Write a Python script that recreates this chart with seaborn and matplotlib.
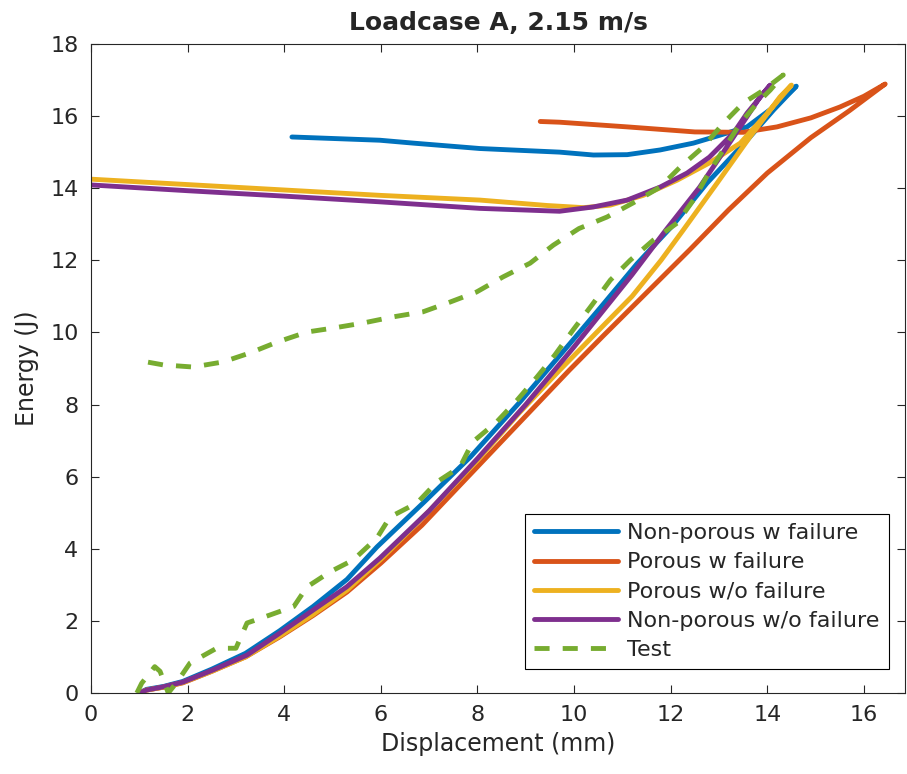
import numpy as np
import pandas as pd
import matplotlib
matplotlib.use("Agg")
import matplotlib.pyplot as plt
import seaborn as sns

# ---- data (displacement mm, energy J) ----
# each series: loading branch, then unloading branch (one continuous path)
blue_x_load = [1.0, 1.15, 1.5, 1.9, 2.5, 3.2, 3.9, 4.6, 5.3, 5.92, 6.9, 7.85, 8.9, 9.92,
               10.54, 11.3, 12.05, 12.75, 13.58, 14.13, 14.6]
blue_y_load = [0, 0.1, 0.18, 0.32, 0.66, 1.1, 1.72, 2.4, 3.15, 4.05, 5.3, 6.54, 8.1, 9.7,
               10.68, 11.9, 12.98, 14.14, 15.33, 16.17, 16.83]
blue_x_unl = [14.6, 14.13, 13.58, 13.02, 12.47, 11.78, 11.1, 10.4, 9.7, 8.05, 6.67, 5.98, 4.16]
blue_y_unl = [16.83, 16.25, 15.7, 15.47, 15.25, 15.06, 14.93, 14.92, 15.0, 15.1, 15.25, 15.33, 15.42]

orange_x_load = [1.0, 1.15, 1.5, 1.9, 2.5, 3.2, 3.9, 4.6, 5.3, 6.0, 6.85, 7.7, 8.8, 9.9,
                 10.6, 11.5, 12.4, 13.2, 14.0, 14.9, 15.7, 16.44]
orange_y_load = [0, 0.08, 0.16, 0.28, 0.6, 1.0, 1.55, 2.15, 2.8, 3.6, 4.65, 5.85, 7.4, 8.95,
                 9.9, 11.1, 12.3, 13.4, 14.42, 15.4, 16.15, 16.89]
orange_x_unl = [16.44, 16.0, 15.5, 14.9, 14.2, 13.5, 12.5, 11.1, 9.7, 9.3]
orange_y_unl = [16.89, 16.55, 16.25, 15.95, 15.7, 15.55, 15.56, 15.7, 15.83, 15.85]

yellow_x_load = [1.0, 1.15, 1.5, 1.9, 2.5, 3.2, 3.9, 4.6, 5.3, 6.05, 7.0, 8.0, 8.86, 9.7,
                 10.54, 11.2, 11.8, 12.26, 12.96, 13.64, 14.26, 14.5]
yellow_y_load = [0, 0.08, 0.16, 0.29, 0.6, 1.0, 1.57, 2.18, 2.85, 3.77, 5.05, 6.45, 7.76, 8.95,
                 10.1, 11.0, 12.0, 12.84, 14.14, 15.42, 16.53, 16.86]
yellow_x_unl = [14.5, 14.0, 13.44, 12.8, 12.13, 11.43, 10.75, 10.2, 9.44, 8.05, 6.0, 4.0, 2.0, 0.0]
yellow_y_unl = [16.86, 16.08, 15.25, 14.7, 14.22, 13.8, 13.53, 13.46, 13.52, 13.67, 13.8, 13.95, 14.1, 14.25]

purple_x_load = [1.0, 1.15, 1.5, 1.9, 2.53, 3.23, 3.91, 4.6, 5.29, 5.98, 7.0, 8.0, 9.0, 10.0,
                 10.54, 11.2, 11.9, 12.6, 13.3, 13.85, 14.06]
purple_y_load = [0, 0.08, 0.17, 0.3, 0.64, 1.05, 1.66, 2.3, 2.94, 3.74, 5.05, 6.5, 8.0, 9.6,
                 10.5, 11.6, 12.84, 14.03, 15.42, 16.53, 16.86]
purple_x_unl = [14.06, 13.58, 13.3, 12.8, 12.34, 11.78, 11.1, 10.4, 9.7, 8.05, 6.0, 4.0, 2.0, 0.0]
purple_y_unl = [16.86, 16.08, 15.53, 14.86, 14.42, 14.03, 13.67, 13.48, 13.36, 13.44, 13.62, 13.78, 13.93, 14.09]

test_x_load = [0.95, 1.05, 1.32, 1.43, 1.6, 1.78, 2.05, 2.6, 3.0, 3.23, 3.7, 4.2, 4.47, 4.95,
               5.43, 5.92, 6.19, 6.75, 7.16, 7.64, 7.9, 8.4, 8.82, 9.23, 9.6, 9.98, 10.37,
               10.75, 11.16, 11.64, 12.13, 12.47, 12.82, 13.09, 13.44, 13.79, 14.06, 14.33]
test_y_load = [0, 0.27, 0.73, 0.6, 0.0, 0.3, 0.83, 1.24, 1.24, 1.94, 2.16, 2.4, 2.94, 3.36,
               3.69, 4.3, 4.88, 5.27, 5.85, 6.27, 6.96, 7.52, 8.12, 8.76, 9.37, 10.07, 10.76,
               11.45, 12.0, 12.56, 13.03, 13.67, 14.5, 15.06, 15.8, 16.36, 16.72, 17.14]
test_x_unl = [14.33, 13.9, 13.5, 13.09, 12.67, 12.2, 11.78, 11.22, 10.68, 10.1, 9.57, 9.09,
              8.53, 7.98, 7.43, 6.87, 6.25, 5.63, 5.01, 4.47, 3.85, 3.29, 2.73, 2.11, 1.49, 0.95]
test_y_unl = [17.14, 16.7, 16.36, 15.8, 15.14, 14.59, 14.03, 13.59, 13.2, 12.88, 12.42, 11.92,
              11.54, 11.12, 10.84, 10.57, 10.43, 10.26, 10.12, 10.01, 9.73, 9.43, 9.18, 9.04, 9.1, 9.23]

labels = ["Non-porous w failure", "Porous w failure", "Porous w/o failure",
          "Non-porous w/o failure", "Test"]
colors = ["#0072BD", "#D95319", "#EDB120", "#7E2F8E", "#77AC30"]

series = [
    (blue_x_load + blue_x_unl[1:], blue_y_load + blue_y_unl[1:]),
    (orange_x_load + orange_x_unl[1:], orange_y_load + orange_y_unl[1:]),
    (yellow_x_load + yellow_x_unl[1:], yellow_y_load + yellow_y_unl[1:]),
    (purple_x_load + purple_x_unl[1:], purple_y_load + purple_y_unl[1:]),
    (test_x_load + test_x_unl[1:], test_y_load + test_y_unl[1:]),
]

# ---- plot ----
sns.set_style("white")
plt.rcParams['font.family'] = ['DejaVu Sans']

fig = plt.figure(figsize=(9.07, 7.74), dpi=100)
ax = fig.add_axes([0.1003, 0.1047, 0.8975, 0.8385])

for (xs, ys), lab, col in zip(series, labels, colors):
    df = pd.DataFrame({"x": xs, "y": ys})
    ls = (0, (3.1, 2.7)) if lab == "Test" else "-"
    sns.lineplot(data=df, x="x", y="y", sort=False, estimator=None, color=col,
                 linewidth=3.5, linestyle=ls, label=lab, ax=ax)

ax.set_xlim(0, 16.85)
ax.set_ylim(0, 18)
ax.set_xticks(np.arange(0, 17, 2))
ax.set_yticks(np.arange(0, 19, 2))

edge = "#262626"
for sp in ax.spines.values():
    sp.set_visible(True)
    sp.set_color(edge)
    sp.set_linewidth(0.8)
ax.tick_params(direction="in", length=5.8, width=0.8, color=edge, labelcolor=edge,
               labelsize=16, top=True, right=True, bottom=True, left=True)
ax.tick_params(axis="x", pad=9)
ax.tick_params(axis="y", pad=9)

ax.set_xlabel("Displacement (mm)", fontsize=17, color=edge, labelpad=5)
ax.set_ylabel("Energy (J)", fontsize=17, color=edge, labelpad=8)
ax.set_title("Loadcase A, 2.15 m/s", fontsize=18, fontweight="bold", pad=10)

leg = ax.legend(loc="lower right", bbox_to_anchor=(0.9803, 0.037), borderaxespad=0,
                fontsize=16, handlelength=3.8, handletextpad=0.4, labelspacing=0.41,
                borderpad=0.42, frameon=True, fancybox=False, framealpha=1)
leg.get_frame().set_edgecolor("black")
leg.get_frame().set_linewidth(0.8)

fig.savefig("out.png", dpi=100)
